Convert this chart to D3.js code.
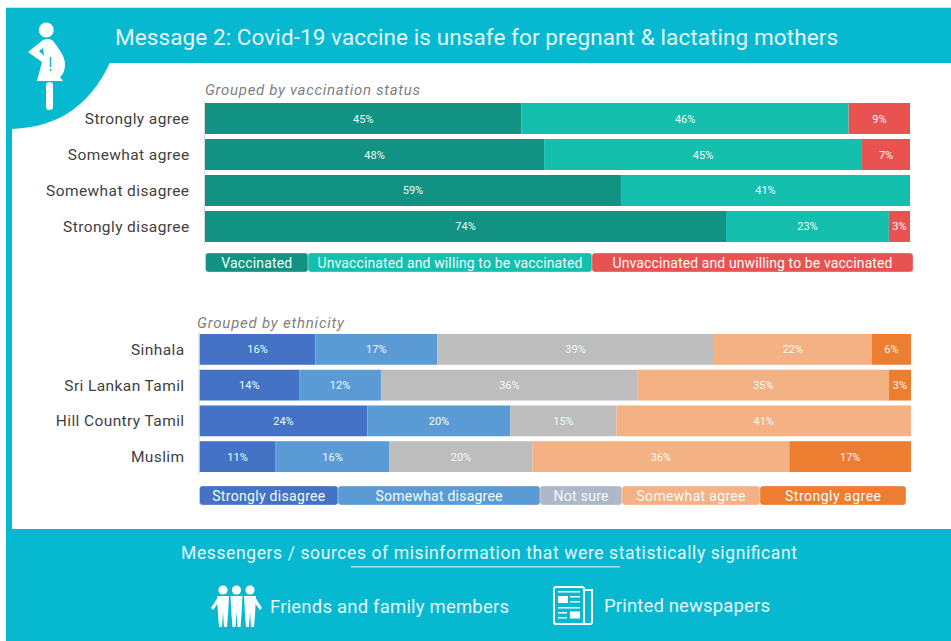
<!DOCTYPE html>
<html><head><meta charset="utf-8">
<script src="https://cdn.jsdelivr.net/npm/d3@7/dist/d3.min.js"></script>
<style>html,body{margin:0;padding:0;background:#fff}svg{display:block}text{font-family:Roboto,sans-serif}</style>
</head><body><svg id="c" width="951" height="641"></svg>
<script>
const statusCategories=["Strongly agree","Somewhat agree","Somewhat disagree","Strongly disagree"];
const statusSeries=["Vaccinated","Unvaccinated and willing to be vaccinated","Unvaccinated and unwilling to be vaccinated"];
const vaccinated=[44.9,48.1,59.0,73.9];
const willing=[46.4,45.1,41.0,23.1];
const unwilling=[8.7,6.8,0,3.0];
const ethnicCategories=["Sinhala","Sri Lankan Tamil","Hill Country Tamil","Muslim"];
const ethnicSeries=["Strongly disagree","Somewhat disagree","Not sure","Somewhat agree","Strongly agree"];
const stronglyDisagree=[16.3,14.0,23.6,10.7];
const somewhatDisagree=[17.1,11.5,20.1,16.0];
const notSure=[38.9,36.1,14.9,20.1];
const somewhatAgree=[22.2,35.3,41.4,36.1];
const stronglyAgree=[5.5,3.1,0,17.1];
const title="Message 2: Covid-19 vaccine is unsafe for pregnant & lactating mothers";
const footer="Messengers / sources of misinformation that were statistically significant";
const sources=["Friends and family members","Printed newspapers"];

const svg=d3.select("#c");
const TEAL="#06b9d1";
svg.append("rect").attr("x",6).attr("y",7).attr("width",945).attr("height",1).attr("fill","#bfeaf1");
svg.append("rect").attr("x",6).attr("y",8).attr("width",945).attr("height",55).attr("fill",TEAL);
svg.append("rect").attr("x",6).attr("y",8).attr("width",6).attr("height",633).attr("fill",TEAL);
svg.append("rect").attr("x",6).attr("y",529).attr("width",945).attr("height",112).attr("fill",TEAL);
svg.append("path").attr("d","M6,60H111C101,84 85,103 65,115C47,125 30,128 12,129H6Z").attr("fill",TEAL);

function fitted(sel,len){return sel.attr("textLength",len).attr("lengthAdjust","spacing");}
fitted(svg.append("text").attr("x",115).attr("y",45).attr("font-size",22.5).attr("fill","#e4f7fa").text(title),723);

function stacked(cfg){
  const g=svg.append("g");
  const x=d3.scaleLinear().domain([0,100]).range(cfg.xr);
  const y=d3.scaleBand().domain(cfg.cats).range(cfg.yr).paddingInner(.139).paddingOuter(.07);
  const rows=cfg.cats.map((c,i)=>{const o={cat:c};cfg.series.forEach((s,j)=>o[s]=cfg.values[j][i]);return o;});
  const layers=d3.stack().keys(cfg.series)(rows);
  layers.forEach((l,j)=>{
    const lg=g.append("g");
    lg.selectAll("rect").data(l).join("rect")
      .attr("x",d=>x(d[0])).attr("y",d=>y(d.data.cat))
      .attr("width",d=>x(d[1])-x(d[0])).attr("height",y.bandwidth())
      .attr("fill",cfg.colors[j]);
    lg.selectAll("text").data(l.filter(d=>d[1]-d[0]>0)).join("text")
      .attr("x",d=>(x(d[0])+x(d[1]))/2).attr("y",d=>y(d.data.cat)+y.bandwidth()/2+4)
      .attr("text-anchor","middle").attr("font-size",11).attr("fill","#f0fbfa")
      .text(d=>Math.round(d[1]-d[0])+"%");
  });
  const ax=g.append("g").attr("transform",`translate(${cfg.xr[0]-1},0)`)
    .call(d3.axisLeft(y).tickSize(0).tickPadding(cfg.pad));
  ax.select(".domain").attr("stroke","#d9d9d9");
  ax.selectAll("text").attr("font-size",15.5).attr("fill","#3f3f3f").attr("dy","0.36em")
    .style("letter-spacing","0.4px").style("font-family","Roboto,sans-serif");
  fitted(svg.append("text").attr("x",cfg.subX).attr("y",cfg.subY).attr("font-size",15).attr("font-style","italic")
    .attr("fill","#7f7f7f").text(cfg.sub),cfg.subLen);
  cfg.series.forEach((s,j)=>{
    const a=cfg.edges[j],b=cfg.edges[j+1];
    svg.append("rect").attr("x",a).attr("y",cfg.legY).attr("width",b-a).attr("height",19).attr("rx",3)
      .attr("fill",cfg.legColors[j]).attr("stroke","#fff").attr("stroke-opacity",.5).attr("stroke-width",.6);
    fitted(svg.append("text").attr("x",(a+b)/2).attr("y",cfg.legY+14.5).attr("text-anchor","middle")
      .attr("font-size",14).attr("fill","#f2fbfa").text(s),cfg.legLen[j]);
  });
}
stacked({cats:statusCategories,series:statusSeries,values:[vaccinated,willing,unwilling],
  colors:["#119283","#15bfae","#e85352"],legColors:["#119283","#15bfae","#e85352"],
  xr:[205,910],yr:[100.5,244.5],pad:14.5,sub:"Grouped by vaccination status",subX:205,subY:95,subLen:215,
  edges:[205.5,308,592,913],legY:253,legLen:[71,265,280]});
stacked({cats:ethnicCategories,series:ethnicSeries,values:[stronglyDisagree,somewhatDisagree,notSure,somewhatAgree,stronglyAgree],
  colors:["#4472c4","#5b9bd5","#bdbdbd","#f4b183","#ed7d31"],legColors:["#4472c4","#5b9bd5","#adb9ca","#f4b183","#ed7d31"],
  xr:[199.5,911],yr:[331.5,474.5],pad:14,sub:"Grouped by ethnicity",subX:197,subY:328,subLen:147,
  edges:[199.5,338,540,622,760,906],legY:486,legLen:[113,127,55,109,96]});

fitted(svg.append("text").attr("x",181).attr("y",559).attr("font-size",17.5).attr("fill","#e4f7fa").text(footer),616);
svg.append("rect").attr("x",351).attr("y",566).attr("width",269).attr("height",1.5).attr("fill","#a8e6ef");
fitted(svg.append("text").attr("x",270).attr("y",613).attr("font-size",18.5).attr("fill","#e4f7fa").text(sources[0]),239);
fitted(svg.append("text").attr("x",604).attr("y",612).attr("font-size",18.5).attr("fill","#e4f7fa").text(sources[1]),166);

const ic=svg.append("g").attr("fill","#fff");
ic.append("circle").attr("cx",46.3).attr("cy",30).attr("r",7.5);
ic.append("path").attr("d","M43,40C47,38 52,39 54,42C58,48 65,56 65,64C65,70 63,75 60,77L63,81H37L42,62L28,52L43,40Z");
ic.append("rect").attr("x",46).attr("y",82).attr("width",7).attr("height",28).attr("rx",3.5);
ic.append("path").attr("d","M39,51L43,48L44,56Z").attr("fill",TEAL);
ic.append("rect").attr("x",49.8).attr("y",57).attr("width",1.4).attr("height",10).attr("fill",TEAL);
ic.append("rect").attr("x",49.8).attr("y",69).attr("width",1.4).attr("height",2).attr("fill",TEAL);

const fr=svg.append("g").attr("fill","#fff");
[223,236.5,250].forEach(cx=>{
  fr.append("circle").attr("cx",cx).attr("cy",590).attr("r",4.6);
  fr.append("path").attr("d",`M${cx-6},596H${cx+6}L${cx+5},615L${cx+4},627H${cx+1}L${cx},612L${cx-1},627H${cx-4}L${cx-5},615Z`);
});
fr.append("path").attr("d","M218,597L211,608L213,610L219,602Z");
fr.append("path").attr("d","M255,597L262,608L260,610L254,602Z");
svg.append("path").attr("d","M229.5,599V626M243,599V626").attr("stroke",TEAL).attr("stroke-width",1);

const np=svg.append("g").attr("fill","none").attr("stroke","#fff").attr("stroke-width",2);
np.append("rect").attr("x",554).attr("y",587).attr("width",30).attr("height",37).attr("rx",2);
np.append("path").attr("d","M584,590H592V622Q592,624 590,624H556");
const nf=svg.append("g").attr("fill","#fff");
nf.append("rect").attr("x",558).attr("y",591).attr("width",22).attr("height",1.5);
nf.append("rect").attr("x",558).attr("y",596).attr("width",10).attr("height",7);
nf.append("rect").attr("x",570).attr("y",596).attr("width",10).attr("height",1.5);
nf.append("rect").attr("x",570).attr("y",601).attr("width",10).attr("height",1.5);
nf.append("rect").attr("x",558).attr("y",607).attr("width",22).attr("height",1.5);
nf.append("rect").attr("x",558).attr("y",612).attr("width",9).attr("height",1.5);
nf.append("rect").attr("x",558).attr("y",617).attr("width",9).attr("height",1.5);
nf.append("rect").attr("x",570).attr("y",611.5).attr("width",10).attr("height",7);
</script></body></html>
